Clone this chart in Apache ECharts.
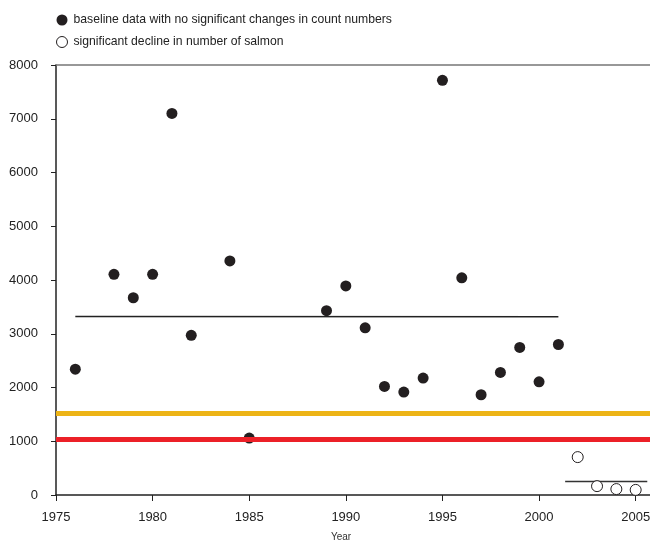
<!DOCTYPE html>
<html>
<head>
<meta charset="utf-8">
<script src="https://cdn.jsdelivr.net/npm/echarts@6/dist/echarts.min.js"></script>
<style>
  html, body { margin: 0; padding: 0; background: #fff; }
  #chart { width: 650px; height: 544px; }
</style>
</head>
<body>
<div id="chart"></div>
<script>
// baseline counts (filled dots)
const baselineYears = [1976, 1978, 1979, 1980, 1981, 1982, 1984, 1985, 1989, 1990, 1991,
  1992, 1993, 1994, 1995, 1996, 1997, 1998, 1999, 2000, 2001];
const baselineCounts = [2340, 4105, 3670, 4105, 7100, 2970, 4355, 1060, 3430, 3890, 3110,
  2020, 1915, 2175, 7715, 4040, 1865, 2280, 2745, 2105, 2800];

// declining counts (open dots)
const declineYears = [2002, 2003, 2004, 2005];
const declineCounts = [705, 165, 110, 95];

// mean lines
const baselineMean = [[1976, 3320], [2001, 3315]];
const declineMean = [[2001.35, 250], [2005.6, 250]];

// reference levels
const yellowLevel = 1530;
const redLevel = 1035;

const xTicks = [1975, 1980, 1985, 1990, 1995, 2000, 2005];
const yTicks = [0, 1000, 2000, 3000, 4000, 5000, 6000, 7000, 8000];

const pts = (xs, ys) => xs.map((x, i) => [x, ys[i]]);

const chart = echarts.init(document.getElementById("chart"));
chart.setOption({
  animation: false,
  textStyle: { fontFamily: "Liberation Sans, Arial, sans-serif" },
  legend: {
    orient: "vertical",
    left: 51,
    top: 9,
    itemGap: 10,
    itemWidth: 11,
    itemHeight: 11,
    textStyle: { fontSize: 12.2, color: "#222", padding: [0, 0, 0, 1] },
    data: [
      { name: "baseline data with no significant changes in count numbers", icon: "circle" },
      { name: "significant decline in number of salmon", icon: "circle", itemStyle: { borderWidth: 1 } }
    ]
  },
  grid: { left: 56, width: 599, top: 65, height: 430, outerBoundsMode: "none", containLabel: false },
  xAxis: [
    {
      type: "value",
      min: 1975,
      max: 2006,
      interval: 5,
      name: "Year",
      nameLocation: "middle",
      nameGap: 37,
      nameTextStyle: { fontSize: 10, color: "#333", padding: [0, 29, 0, 0] },
      axisLine: { lineStyle: { color: "#222", width: 1.5 } },
      axisTick: { length: 6, lineStyle: { color: "#222" } },
      axisLabel: {
        fontSize: 13, color: "#222", margin: 16,
        formatter: v => (xTicks.indexOf(v) >= 0 ? String(v) : "")
      },
      splitLine: { show: false }
    },
    {
      type: "value",
      position: "top",
      min: 1975,
      max: 2006,
      axisLine: { show: true, lineStyle: { color: "#777", width: 1.5 } },
      axisTick: { show: false },
      axisLabel: { show: false },
      splitLine: { show: false }
    }
  ],
  yAxis: {
    type: "value",
    min: 0,
    max: 8000,
    interval: 1000,
    axisLine: { show: true, lineStyle: { color: "#222", width: 1.5 } },
    axisTick: { show: true, length: 5, lineStyle: { color: "#222" } },
    axisLabel: {
      fontSize: 13, color: "#222", margin: 18,
      formatter: v => (yTicks.indexOf(v) >= 0 ? String(v) : "")
    },
    splitLine: { show: false }
  },
  series: [
    {
      name: "levels",
      type: "line",
      data: [],
      silent: true,
      z: 1,
      markLine: {
        silent: true,
        symbol: "none",
        label: { show: false },
        data: [
          { yAxis: yellowLevel, lineStyle: { color: "#EDB416", width: 5, type: "solid" } },
          { yAxis: redLevel, lineStyle: { color: "#EC2028", width: 5, type: "solid" } }
        ]
      }
    },
    {
      name: "mean1",
      type: "line",
      data: baselineMean,
      symbol: "none",
      z: 2,
      lineStyle: { color: "#222", width: 1.5 }
    },
    {
      name: "mean2",
      type: "line",
      data: declineMean,
      symbol: "none",
      z: 2,
      lineStyle: { color: "#333", width: 1.5 }
    },
    {
      name: "baseline data with no significant changes in count numbers",
      type: "scatter",
      data: pts(baselineYears, baselineCounts),
      symbol: "circle",
      symbolSize: 11,
      z: 3,
      itemStyle: { color: "#231f20", opacity: 1 }
    },
    {
      name: "significant decline in number of salmon",
      type: "scatter",
      data: pts(declineYears, declineCounts),
      symbol: "circle",
      symbolSize: 11,
      z: 3,
      itemStyle: { color: "#fff", borderColor: "#231f20", borderWidth: 1, opacity: 1 }
    }
  ]
});
</script>
</body>
</html>
